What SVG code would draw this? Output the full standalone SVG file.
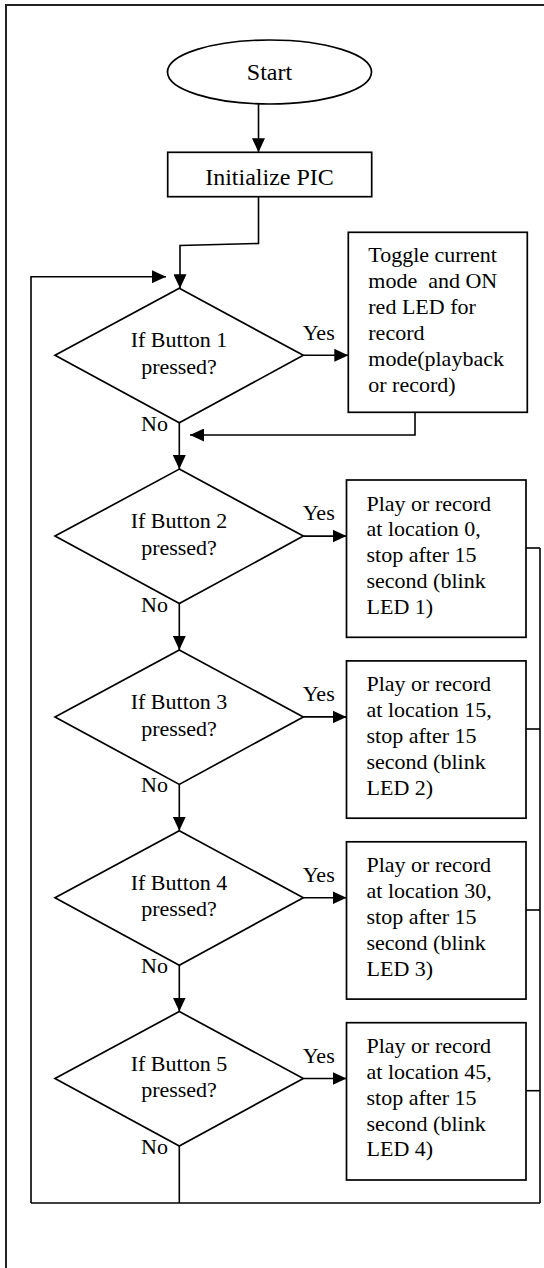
<svg xmlns="http://www.w3.org/2000/svg" width="544" height="1268" viewBox="0 0 544 1268">
<style>
.t{font-family:"Liberation Serif","Times New Roman",serif;font-size:22px;fill:#000}
.tl{font-family:"Liberation Serif","Times New Roman",serif;font-size:24px;fill:#000}
.s{fill:#fff;stroke:#000;stroke-width:1.7}
.c{fill:none;stroke:#000;stroke-width:1.6}
.a{fill:none;stroke:#000;stroke-width:1.6;marker-end:url(#ah)}
</style>
<defs>
<marker id="ah" markerUnits="userSpaceOnUse" markerWidth="14" markerHeight="13" refX="14" refY="6.5" orient="auto">
<path d="M0,0 L14,6.5 L0,13 z" fill="#000"/>
</marker>
</defs>
<rect width="544" height="1268" fill="#fff"/>
<g id="frame">
<path d="M6,1268 V5 H544" fill="none" stroke="#222" stroke-width="2"/>
</g>
<g id="connectors">
<line class="a" x1="258.5" y1="104" x2="258.5" y2="152.3"/>
<polyline class="a" points="258.5,196.7 258.5,243.5 180,245.5 180,288.3"/>
<polyline class="a" points="31,1203 31,276.7 166,276.7"/>
<line class="a" x1="303.3" y1="355.3" x2="348.3" y2="355.3"/>
<polyline class="a" points="415,412.3 415,435 190,435"/>
<line class="a" x1="179.3" y1="422.8" x2="179.3" y2="469.1"/>
<line class="a" x1="303.3" y1="536.1" x2="346.5" y2="536.1"/>
<line class="a" x1="179.3" y1="603.6" x2="179.3" y2="649.9"/>
<line class="a" x1="303.3" y1="716.9" x2="346.5" y2="716.9"/>
<line class="a" x1="179.3" y1="784.4" x2="179.3" y2="830.7"/>
<line class="a" x1="303.3" y1="897.7" x2="346.5" y2="897.7"/>
<line class="a" x1="179.3" y1="965.2" x2="179.3" y2="1011.5"/>
<line class="a" x1="303.3" y1="1078.5" x2="346.5" y2="1078.5"/>
<polyline class="c" points="179.3,1146 179.3,1203"/>
<line class="c" x1="31" y1="1203" x2="540" y2="1203"/>
<line class="c" x1="540" y1="548" x2="540" y2="1203"/>
<line class="c" x1="526" y1="548" x2="540" y2="548"/>
<line class="c" x1="526" y1="729" x2="540" y2="729"/>
<line class="c" x1="526" y1="910" x2="540" y2="910"/>
<line class="c" x1="526" y1="1090.7" x2="540" y2="1090.7"/>
<text class="t" x="302.7" y="339.5">Yes</text>
<text class="t" x="141" y="430.7">No</text>
<text class="t" x="302.7" y="520.3">Yes</text>
<text class="t" x="141" y="611.5">No</text>
<text class="t" x="302.7" y="701.1">Yes</text>
<text class="t" x="141" y="792.3">No</text>
<text class="t" x="302.7" y="881.9">Yes</text>
<text class="t" x="141" y="973.1">No</text>
<text class="t" x="302.7" y="1062.7">Yes</text>
<text class="t" x="141" y="1154">No</text>
</g>
<g id="start">
<ellipse class="s" cx="269.5" cy="72" rx="102" ry="32"/>
<text class="tl" x="269.5" y="80" text-anchor="middle">Start</text>
</g>
<g id="init">
<rect class="s" x="167.7" y="152.3" width="204" height="44.4"/>
<text class="tl" x="269.5" y="185" text-anchor="middle">Initialize PIC</text>
</g>
<g id="d1">
<polygon class="s" points="179.3,288.3 303.3,355.3 179.3,422.8 55,355.3"/>
<text class="t" x="179" y="347.3" text-anchor="middle">If Button 1</text>
<text class="t" x="179" y="374" text-anchor="middle">pressed?</text>
</g>
<g id="b1">
<rect class="s" x="348.3" y="232.3" width="179" height="180"/>
<text class="t" x="368.3" y="261.7">Toggle current</text>
<text class="t" x="368.3" y="287.7" xml:space="preserve">mode  and ON</text>
<text class="t" x="368.3" y="313.7">red LED for</text>
<text class="t" x="368.3" y="339.7">record</text>
<text class="t" x="368.3" y="365.7">mode(playback</text>
<text class="t" x="368.3" y="391.7">or record)</text>
</g>
<g id="d2">
<polygon class="s" points="179.3,469.1 303.3,536.1 179.3,603.6 55,536.1"/>
<text class="t" x="179" y="528.1" text-anchor="middle">If Button 2</text>
<text class="t" x="179" y="554.8" text-anchor="middle">pressed?</text>
</g>
<g id="b2">
<rect class="s" x="346.5" y="480" width="179.5" height="157.3"/>
<text class="t" x="366.5" y="510.5">Play or record</text>
<text class="t" x="366.5" y="536.3">at location 0,</text>
<text class="t" x="366.5" y="562.1">stop after 15</text>
<text class="t" x="366.5" y="587.9">second (blink</text>
<text class="t" x="366.5" y="613.7">LED 1)</text>
</g>
<g id="d3">
<polygon class="s" points="179.3,649.9 303.3,716.9 179.3,784.4 55,716.9"/>
<text class="t" x="179" y="708.9" text-anchor="middle">If Button 3</text>
<text class="t" x="179" y="735.6" text-anchor="middle">pressed?</text>
</g>
<g id="b3">
<rect class="s" x="346.5" y="660.9" width="179.5" height="157.3"/>
<text class="t" x="366.5" y="691.4">Play or record</text>
<text class="t" x="366.5" y="717.2">at location 15,</text>
<text class="t" x="366.5" y="743">stop after 15</text>
<text class="t" x="366.5" y="768.8">second (blink</text>
<text class="t" x="366.5" y="794.6">LED 2)</text>
</g>
<g id="d4">
<polygon class="s" points="179.3,830.7 303.3,897.7 179.3,965.2 55,897.7"/>
<text class="t" x="179" y="889.7" text-anchor="middle">If Button 4</text>
<text class="t" x="179" y="916.4" text-anchor="middle">pressed?</text>
</g>
<g id="b4">
<rect class="s" x="346.5" y="841.8" width="179.5" height="157.3"/>
<text class="t" x="366.5" y="872.3">Play or record</text>
<text class="t" x="366.5" y="898.1">at location 30,</text>
<text class="t" x="366.5" y="923.9">stop after 15</text>
<text class="t" x="366.5" y="949.7">second (blink</text>
<text class="t" x="366.5" y="975.5">LED 3)</text>
</g>
<g id="d5">
<polygon class="s" points="179.3,1011.5 303.3,1078.5 179.3,1146 55,1078.5"/>
<text class="t" x="179" y="1070.5" text-anchor="middle">If Button 5</text>
<text class="t" x="179" y="1097.2" text-anchor="middle">pressed?</text>
</g>
<g id="b5">
<rect class="s" x="346.5" y="1022.7" width="179.5" height="157.3"/>
<text class="t" x="366.5" y="1053.2">Play or record</text>
<text class="t" x="366.5" y="1079">at location 45,</text>
<text class="t" x="366.5" y="1104.8">stop after 15</text>
<text class="t" x="366.5" y="1130.6">second (blink</text>
<text class="t" x="366.5" y="1156.4">LED 4)</text>
</g>
</svg>
